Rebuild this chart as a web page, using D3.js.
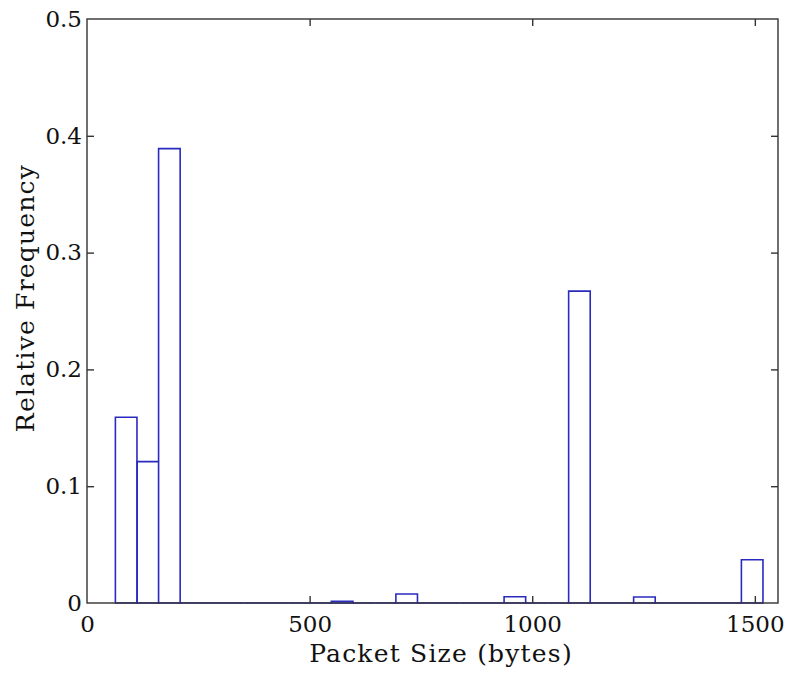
<!DOCTYPE html>
<html>
<head>
<meta charset="utf-8">
<script src="https://cdn.jsdelivr.net/npm/d3@7"></script>
<style>
  body { margin: 0; background: #fff; }
</style>
</head>
<body>
<div id="chart"></div>
<script>
// histogram bins (packet size, bytes) and relative frequencies
var binCenters = [88, 137, 185, 234, 282, 330, 379, 427, 476, 524,
                  573, 621, 670, 718, 767, 815, 864, 912, 961, 1009,
                  1058, 1106, 1155, 1203, 1252, 1300, 1348, 1397, 1445, 1494];
var frequencies = [0.159, 0.121, 0.389, 0, 0, 0, 0, 0, 0, 0,
                   0.0015, 0, 0, 0.0077, 0, 0, 0, 0, 0.0054, 0,
                   0, 0.267, 0, 0, 0.0051, 0, 0, 0, 0, 0.037];
var binWidth = 48.47;
var xTicks = [0, 500, 1000, 1500];
var yTicks = [0, 0.1, 0.2, 0.3, 0.4, 0.5];

var chart_width = 788;
var chart_height = 678;
var margin = { left: 87, right: 10, top: 19, bottom: 75 };
var serif = 'DejaVu Serif';

var x = d3.scaleLinear()
  .domain([0, 1552])
  .range([margin.left, chart_width - margin.right]);
var y = d3.scaleLinear()
  .domain([0, 0.5])
  .range([chart_height - margin.bottom, margin.top]);

var svg = d3.select('#chart')
  .append('svg')
  .attr('width', chart_width)
  .attr('height', chart_height);

var bins = binCenters.map(function(c, i) {
  return { x0: c - binWidth / 2, x1: c + binWidth / 2, v: frequencies[i] };
});

// bars (paths so that zero-height bins still draw on the baseline)
svg.append('g')
  .selectAll('path')
  .data(bins)
  .enter()
  .append('path')
  .attr('d', function(d) {
    var p = d3.path();
    p.moveTo(x(d.x0), y(0));
    p.lineTo(x(d.x0), y(d.v));
    p.lineTo(x(d.x1), y(d.v));
    p.lineTo(x(d.x1), y(0));
    p.closePath();
    return p.toString();
  })
  .attr('fill', 'white')
  .attr('stroke', '#2a2ac0')
  .attr('stroke-width', 1.6);

// box and ticks on all four sides
var axisColor = '#333';
var tickLen = 7;
var frame = svg.append('g');

frame.append('rect')
  .attr('x', x(0))
  .attr('y', y(0.5))
  .attr('width', x(1552) - x(0))
  .attr('height', y(0) - y(0.5))
  .attr('fill', 'none')
  .attr('stroke', axisColor)
  .attr('stroke-width', 1.4);

var axBottom = d3.axisBottom(x).tickValues(xTicks).tickSizeInner(-tickLen).tickSizeOuter(0)
  .tickPadding(13).tickFormat(d3.format('d'));
var axTop = d3.axisTop(x).tickValues(xTicks).tickSizeInner(-tickLen).tickSizeOuter(0).tickFormat('');
var axLeft = d3.axisLeft(y).tickValues(yTicks).tickSizeInner(-tickLen).tickSizeOuter(0)
  .tickPadding(5).tickFormat(function(d) { return d === 0 ? '0' : d3.format('.1f')(d); });
var axRight = d3.axisRight(y).tickValues(yTicks).tickSizeInner(-tickLen).tickSizeOuter(0).tickFormat('');

function style_axis(g) {
  g.attr('font-family', serif).attr('font-size', 23);
  g.select('.domain').remove();
  g.selectAll('.tick line').attr('stroke', axisColor).attr('stroke-width', 1.4);
  g.selectAll('.tick text').attr('fill', '#111');
}

frame.append('g').attr('transform', 'translate(0,' + y(0) + ')').call(axBottom).call(style_axis);
frame.append('g').attr('transform', 'translate(0,' + y(0.5) + ')').call(axTop).call(style_axis);
frame.append('g').attr('transform', 'translate(' + x(0) + ',0)').call(axLeft).call(style_axis);
frame.append('g').attr('transform', 'translate(' + x(1552) + ',0)').call(axRight).call(style_axis);

// hide ticks that fall on the frame corners
frame.selectAll('.tick').filter(function(d) { return d === 0 || d === 0.5; })
  .select('line').attr('stroke-opacity', 0);

// axis labels
svg.append('text')
  .attr('x', 441)
  .attr('y', 662)
  .attr('text-anchor', 'middle')
  .attr('font-family', serif)
  .attr('font-size', 25)
  .attr('fill', '#111')
  .style('letter-spacing', '1.2px')
  .text('Packet Size (bytes)');

svg.append('text')
  .attr('transform', 'translate(34,' + 298 + ') rotate(-90)')
  .attr('text-anchor', 'middle')
  .attr('font-family', serif)
  .attr('font-size', 25)
  .attr('fill', '#111')
  .style('letter-spacing', '1.2px')
  .text('Relative Frequency');
</script>
</body>
</html>
